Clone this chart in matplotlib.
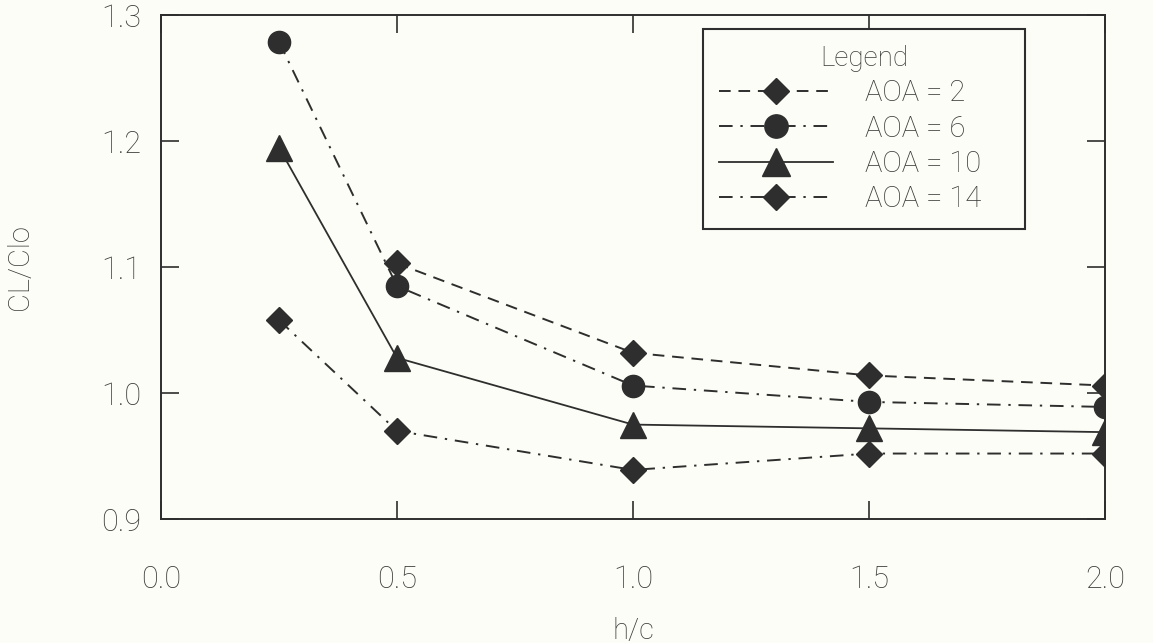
import matplotlib
matplotlib.use("Agg")
import matplotlib.pyplot as plt

# values
hc = [0.25, 0.5, 1.0, 1.5, 2.0]
hc_aoa2 = [0.5, 1.0, 1.5, 2.0]
cl_aoa2 = [1.103, 1.032, 1.014, 1.006]
cl_aoa6 = [1.279, 1.085, 1.006, 0.993, 0.989]
cl_aoa10 = [1.195, 1.028, 0.975, 0.972, 0.969]
cl_aoa14 = [1.058, 0.970, 0.939, 0.952, 0.952]

xticks = [0.0, 0.5, 1.0, 1.5, 2.0]
yticks = [0.9, 1.0, 1.1, 1.2, 1.3]

bg = "#fdfdf7"
ink = "#2e2e2e"
txt = "#3a3a3a"
plt.rcParams["font.family"] = ["Roboto", "DejaVu Sans"]
plt.rcParams["font.weight"] = "light"

fig = plt.figure(figsize=(11.53, 6.43), dpi=100, facecolor=bg)
ax = fig.add_axes([0.1396, 0.1928, 0.8188, 0.7834], facecolor=bg)

ax.plot(hc_aoa2, cl_aoa2, ls=(0, (6, 4)), lw=1.4, color=ink,
        marker="D", ms=13, mfc=ink, mec=ink, label="AOA = 2")
ax.plot(hc, cl_aoa6, ls=(0, (7, 4, 1.2, 4)), lw=1.4, color=ink,
        marker="o", ms=16, mfc=ink, mec=ink, label="AOA = 6")
ax.plot(hc, cl_aoa10, ls="-", lw=1.3, color=ink,
        marker="^", ms=19, mfc=ink, mec=ink, label="AOA = 10")
ax.plot(hc, cl_aoa14, ls=(0, (7, 4, 1.2, 4)), lw=1.4, color=ink,
        marker="D", ms=13, mfc=ink, mec=ink, label="AOA = 14")

ax.set_xlim(0.0, 2.0)
ax.set_ylim(0.9, 1.3)
ax.set_xticks(xticks)
ax.set_yticks(yticks)
ax.set_xticklabels([f"{v:.1f}" for v in xticks])
ax.set_yticklabels([f"{v:.1f}" for v in yticks])
ax.tick_params(direction="in", length=13, width=1.2, color=ink,
               top=True, right=True, labelsize=22, labelcolor=txt)
ax.tick_params(axis="x", pad=33)
ax.tick_params(axis="y", pad=14)
for s in ax.spines.values():
    s.set_linewidth(1.4)
    s.set_color(ink)

ax.set_xlabel("h/c", fontsize=21, color=txt, fontweight="light")
ax.set_ylabel("CL/Clo", fontsize=21, color=txt, fontweight="light")
ax.xaxis.set_label_coords(0.5, -0.195)
ax.yaxis.set_label_coords(-0.135, 0.5)

# legend box spans 703..1025 px wide in the reference
leg = ax.legend(loc="upper left", bbox_to_anchor=(0.574, 0.0, 0.341, 0.973),
                mode="expand", title="Legend", fontsize=21, title_fontsize=20,
                fancybox=False, framealpha=1, facecolor=bg, edgecolor=ink,
                handlelength=3.9, handletextpad=1.1, borderpad=0.55,
                borderaxespad=0, labelspacing=0.25, numpoints=1,
                markerscale=1.05)
leg.get_frame().set_linewidth(1.5)
for t in leg.get_texts():
    t.set_color(txt)
leg.get_title().set_color(txt)

fig.savefig("out.png", dpi=100, facecolor=bg)
